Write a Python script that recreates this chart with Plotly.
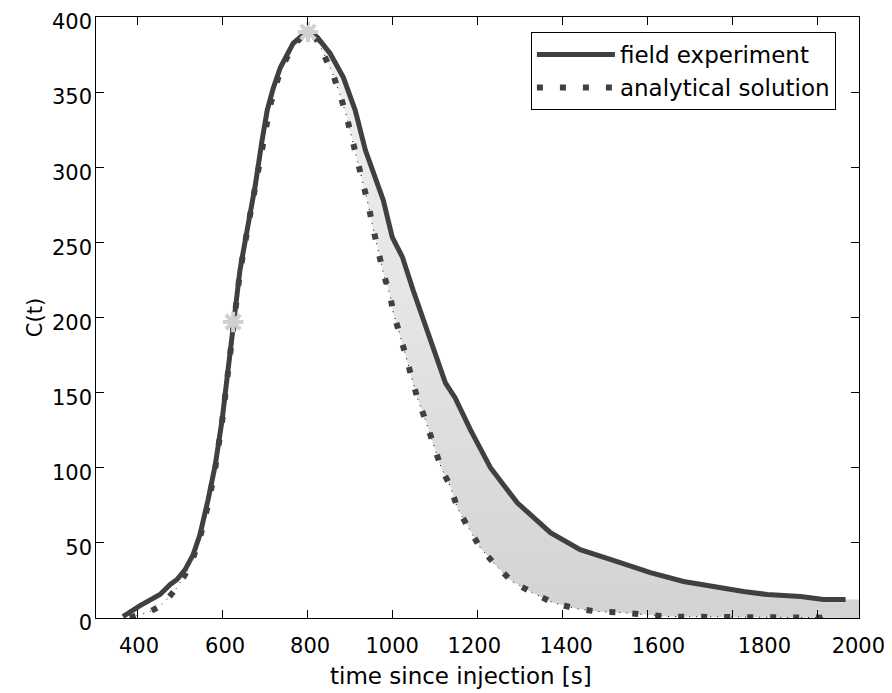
import plotly.graph_objects as go

# ---------------- data ----------------
field_t = [367, 407, 454, 478, 494, 513, 532, 548, 567, 584, 600, 614, 626, 642, 661,
           678, 694, 706, 720, 737, 767, 791, 802, 824, 854, 885, 913, 937, 955, 979,
           1000, 1024, 1049, 1082, 1106, 1125, 1148, 1184, 1231, 1294, 1372, 1442,
           1529, 1607, 1685, 1765, 1826, 1882, 1960, 2014, 2066]
field_c = [1.0, 8.3, 15.6, 22.3, 25.6, 32.2, 42.2, 55.5, 78.7, 102.0, 131.9, 165.1,
           197.0, 231.6, 261.5, 288.0, 317.9, 337.9, 352.5, 366.4, 382.4, 389.0, 391.0,
           386.4, 375.7, 359.8, 337.9, 311.3, 298.0, 278.1, 253.5, 240.2, 218.3, 191.7,
           173.8, 156.5, 146.5, 125.2, 100.0, 76.7, 56.8, 45.5, 37.5, 30.2, 24.3, 20.3,
           17.6, 15.6, 14.3, 12.3, 12.3]

anal_t = [383, 426, 449, 468, 494, 513, 532, 548, 567, 584, 600, 614, 626, 642, 661,
          678, 694, 713, 737, 767, 791, 802, 821, 838, 859, 878, 892, 918, 932, 944,
          955, 967, 979, 995, 1002, 1017, 1031, 1045, 1059, 1078, 1097, 1115, 1137,
          1153, 1179, 1207, 1242, 1282, 1329, 1377, 1431, 1482, 1537, 1591, 1647,
          1701, 1800, 1900, 2026]
anal_c = [0.3, 3.7, 7.0, 11.6, 20.3, 28.9, 40.2, 53.5, 75.4, 100.0, 130.6, 163.8,
          195.7, 230.2, 260.8, 287.4, 314.6, 341.2, 364.5, 381.1, 387.7, 390.4, 385.7,
          376.4, 363.1, 347.8, 334.6, 304.7, 289.4, 274.8, 259.5, 244.9, 229.6, 215.0,
          203.7, 189.7, 175.1, 159.8, 146.5, 131.9, 115.3, 100.0, 87.4, 73.4, 60.1,
          46.8, 35.5, 24.3, 16.9, 10.3, 6.3, 4.3, 3.7, 2.3, 1.0, 0.8, 0.5, 0.3, 0.2]

mark_t = [626, 802]          # half-maximum and peak markers
mark_c = [197, 390]

x_range = [303.5, 2097.5]
y_range = [0, 400]
x_ticks = [400, 600, 800, 1000, 1200, 1400, 1600, 1800, 2000]
x_tick_text = ["400", "600", "800", "1000", "1200", "1400", "1600", "1800", "2000"]
# where the reference prints each x tick label (it drifts off the tick marks)
x_label_at = [404.7, 607, 807, 1000, 1193, 1409, 1626, 1875, 2096]
y_ticks = [0, 50, 100, 150, 200, 250, 300, 350, 400]

FONT = "DejaVu Sans, Liberation Sans, Arial, sans-serif"
DARK = "#404040"

# ---------------- shaded area between curves (from the peak on) ----------------
pk_f = field_c.index(max(field_c))
pk_a = anal_c.index(max(anal_c))
fill_x = field_t[pk_f:] + [x_range[1], x_range[1]] + anal_t[pk_a:][::-1]
fill_y = field_c[pk_f:] + [field_c[-1], 0] + anal_c[pk_a:][::-1]

fig = go.Figure()
fig.add_trace(go.Scatter(
    x=fill_x, y=fill_y, mode="lines", fill="toself",
    line=dict(width=0, color="rgba(0,0,0,0)"),
    fillgradient=dict(type="vertical",
                      colorscale=[[0, "#d3d3d3"], [0.5, "#e4e4e4"], [1, "#f0f0f0"]]),
    showlegend=False, hoverinfo="skip"))

fig.add_trace(go.Scatter(
    x=anal_t, y=anal_c, mode="lines",
    line=dict(color="black", width=1, dash="1px,6px"),
    showlegend=False, hoverinfo="skip"))

fig.add_trace(go.Scatter(
    x=field_t, y=field_c, mode="lines", name="field experiment",
    line=dict(color=DARK, width=5)))

fig.add_trace(go.Scatter(
    x=anal_t, y=anal_c, mode="lines", name="analytical solution",
    line=dict(color=DARK, width=6, dash="6px,17px")))

fig.add_trace(go.Scatter(
    x=mark_t, y=mark_c, mode="markers",
    marker=dict(symbol="asterisk-open", size=17, color="#d0d0d0",
                line=dict(color="#d0d0d0", width=4)),
    showlegend=False, hoverinfo="skip"))

# invisible traces that activate the label-only axes
fig.add_trace(go.Scatter(x=[x_range[0]], y=[0], xaxis="x2", yaxis="y", mode="markers",
                         marker=dict(opacity=0), showlegend=False, hoverinfo="skip"))
fig.add_trace(go.Scatter(x=[x_range[0]], y=[0], xaxis="x", yaxis="y2", mode="markers",
                         marker=dict(opacity=0), showlegend=False, hoverinfo="skip"))

fig.update_layout(
    width=884, height=685,
    margin=dict(l=88, r=33, t=9, b=75, autoexpand=False),
    paper_bgcolor="white", plot_bgcolor="white",
    font=dict(family=FONT, size=21, color="black"),
    xaxis=dict(range=x_range, tickvals=x_ticks, showticklabels=False,
               ticks="inside", ticklen=8, tickcolor="black", tickwidth=1,
               showline=True, linecolor="black", linewidth=1, mirror="ticks",
               showgrid=False, zeroline=False, automargin=False),
    xaxis2=dict(range=x_range, overlaying="x", anchor="y", side="bottom",
                tickvals=x_label_at, ticktext=x_tick_text, ticks="",
                ticklabelstandoff=13, automargin=False, ticklabeloverflow="allow",
                showline=False, showgrid=False, zeroline=False,
                tickfont=dict(size=21)),
    yaxis=dict(range=y_range, tickvals=y_ticks, automargin=False, showticklabels=False,
               ticks="inside", ticklen=8, tickcolor="black", tickwidth=1,
               showline=True, linecolor="black", linewidth=1, mirror="ticks",
               showgrid=False, zeroline=False),
    yaxis2=dict(range=y_range, tickvals=y_ticks, overlaying="y", anchor="free",
                side="left", position=0, automargin=False, ticks="",
                ticklabelstandoff=4, ticklabelshift=5, ticklabeloverflow="allow",
                showline=False, showgrid=False, zeroline=False,
                tickfont=dict(size=21),
                title=dict(text="C(t)", font=dict(size=21), standoff=2)),
    legend=dict(x=0.570, y=0.975, xanchor="left", yanchor="top",
                bgcolor="white", bordercolor="black", borderwidth=1,
                font=dict(size=23), itemwidth=78, tracegroupgap=0),
    annotations=[dict(text="time since injection [s]", xref="paper", yref="paper",
                      x=0.478, y=0, xanchor="center", yanchor="middle", yshift=-58,
                      showarrow=False, font=dict(size=23))],
)

fig.write_html("out.html")
